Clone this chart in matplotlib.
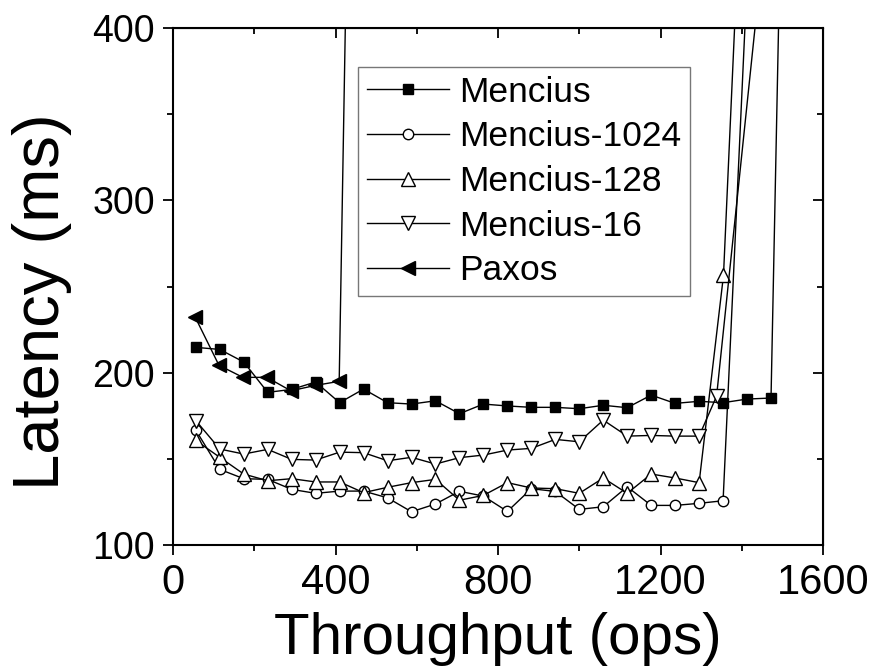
import matplotlib
matplotlib.use('Agg')
import matplotlib.pyplot as plt
from matplotlib.ticker import MultipleLocator

plt.rcParams['font.family'] = ['Liberation Sans', 'DejaVu Sans']

# throughput (ops) / latency (ms); the last point of each run is the saturation jump
mencius_x = [56, 115, 174, 233, 292, 351, 410, 469, 528, 587, 646, 705, 764,
             823, 882, 941, 1000, 1059, 1118, 1177, 1236, 1295, 1354, 1413, 1472, 1530]
mencius_y = [214.7, 213.5, 206.2, 188.6, 190.3, 194.6, 182.6, 190.5, 182.6, 181.8,
             183.7, 176.2, 181.8, 180.7, 179.9, 179.9, 179.1, 181.1, 179.7, 187.0,
             182.2, 183.4, 182.6, 184.7, 185.3, 860]

m1024_x = [56, 115, 174, 233, 292, 351, 410, 469, 528, 587, 646, 705, 764,
           823, 882, 941, 1000, 1059, 1118, 1177, 1236, 1295, 1354, 1413]
m1024_y = [166.7, 143.9, 138.5, 138.1, 132.3, 130.0, 131.3, 131.3, 127.4, 119.3,
           123.8, 131.2, 128.4, 119.5, 132.7, 131.1, 120.7, 122.2, 133.8, 123.0,
           123.0, 124.2, 125.7, 427]

m128_x = [56, 115, 174, 233, 292, 351, 410, 469, 528, 587, 646, 705, 764,
          823, 882, 941, 1000, 1059, 1118, 1177, 1236, 1295, 1355, 1414]
m128_y = [160.7, 150.9, 141.2, 137.3, 138.5, 136.6, 136.6, 130.4, 133.5, 136.2,
          138.1, 126.0, 128.8, 136.2, 133.1, 132.7, 130.0, 138.9, 130.0, 141.2,
          138.9, 136.2, 256.5, 567]

m16_x = [56, 115, 174, 233, 292, 351, 410, 469, 528, 587, 646, 705, 764,
         823, 882, 941, 1000, 1059, 1118, 1177, 1236, 1295, 1338, 1456]
m16_y = [172.2, 155.7, 152.8, 155.5, 149.7, 149.3, 153.9, 153.6, 148.9, 150.9,
         147.0, 150.7, 152.2, 155.1, 156.1, 161.3, 159.9, 172.5, 163.2, 163.6,
         163.2, 163.2, 186.4, 453]

paxos_x = [54, 113, 172, 231, 290, 350, 409, 468]
paxos_y = [232.5, 204.3, 197.3, 197.3, 189.5, 192.6, 195.0, 1000]

fig = plt.figure(figsize=(8.7, 6.69), dpi=100)
ax = fig.add_axes([0.1989, 0.1853, 0.7471, 0.7728])

line_kw = dict(color='black', linewidth=1.0, markeredgewidth=1.0, markeredgecolor='black')
ax.plot(mencius_x, mencius_y, marker='s', markersize=7.5, markerfacecolor='black',
        label='Mencius', **line_kw)
ax.plot(m1024_x, m1024_y, marker='o', markersize=7.5, markerfacecolor='white',
        label='Mencius-1024', **line_kw)
ax.plot(m128_x, m128_y, marker='^', markersize=9.5, markerfacecolor='white',
        label='Mencius-128', **line_kw)
ax.plot(m16_x, m16_y, marker='v', markersize=9.5, markerfacecolor='white',
        label='Mencius-16', **line_kw)
ax.plot(paxos_x, paxos_y, marker='<', markersize=10, markerfacecolor='black',
        label='Paxos', **line_kw)

ax.set_xlim(0, 1600)
ax.set_ylim(100, 400)
ax.xaxis.set_major_locator(MultipleLocator(400))
ax.xaxis.set_minor_locator(MultipleLocator(200))
ax.yaxis.set_major_locator(MultipleLocator(100))
ax.yaxis.set_minor_locator(MultipleLocator(50))

for sp in ax.spines.values():
    sp.set_linewidth(1.5)

ax.tick_params(which='major', direction='out', length=7.2, width=1.3, pad=6)
ax.tick_params(which='minor', direction='out', length=4.3, width=1.3)
ax.tick_params(axis='x', which='major', labelsize=30)
ax.tick_params(axis='y', which='major', labelsize=27)

# top / right ticks point inward
top = ax.secondary_xaxis('top')
top.xaxis.set_major_locator(MultipleLocator(400))
top.xaxis.set_minor_locator(MultipleLocator(200))
top.tick_params(which='major', direction='in', length=7.2, width=1.3, labeltop=False)
top.tick_params(which='minor', direction='in', length=4.3, width=1.3)
right = ax.secondary_yaxis('right')
right.yaxis.set_major_locator(MultipleLocator(100))
right.yaxis.set_minor_locator(MultipleLocator(50))
right.tick_params(which='major', direction='in', length=7.2, width=1.3, labelright=False)
right.tick_params(which='minor', direction='in', length=4.3, width=1.3)

ax.set_xlabel('Throughput (ops)', fontsize=42)
ax.set_ylabel('Latency (ms)', fontsize=47)
ax.xaxis.set_label_coords(0.5, -0.13)
ax.yaxis.set_label_coords(-0.155, 0.47)

leg = ax.legend(loc='upper left', bbox_to_anchor=(0.285, 0.925), fontsize=25.5,
                numpoints=1, handlelength=2.3, handletextpad=0.3,
                labelspacing=0.33, borderpad=0.25, borderaxespad=0,
                fancybox=False, frameon=True)
leg.get_frame().set_edgecolor('#555555')
leg.get_frame().set_linewidth(1.0)

fig.savefig('out.png', dpi=100)
